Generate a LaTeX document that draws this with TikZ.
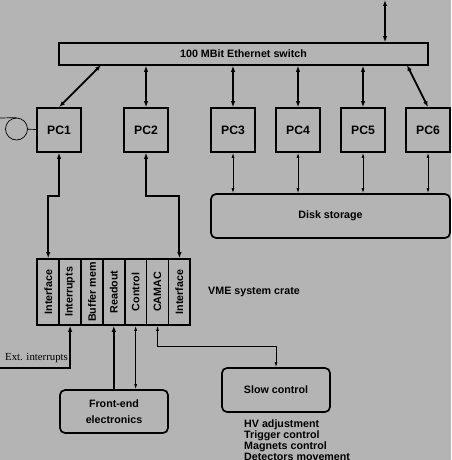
\documentclass[tikz,border=0pt]{standalone}
\usepackage{fontspec}
\setmainfont{Liberation Serif}
\setsansfont{Liberation Sans}
\usetikzlibrary{arrows.meta,positioning}
\definecolor{bggrey}{gray}{0.705}
\tikzset{
  labelfont/.style={font=\sffamily\bfseries\fontsize{10.7}{13}\selectfont},
  box/.style={draw, line width=1.7pt, labelfont, inner sep=0pt},
  pcbox/.style={box, minimum width=44, minimum height=44,
    font=\sffamily\bfseries\fontsize{12.2}{14}\selectfont},
  roundbox/.style={box, rounded corners=5pt, align=center},
  slotbox/.style={box, rotate=90, minimum width=66, minimum height=21.86},
  biglink/.style={line width=1.8pt, {Latex[length=6pt,width=4.5pt]}-{Latex[length=6pt,width=4.5pt]}},
  thinlink/.style={line width=0.8pt, {Latex[length=5pt,width=3pt]}-{Latex[length=5pt,width=3pt]}}
}
\begin{document}
\begin{tikzpicture}[x=1pt,y=-1pt]
  \fill[bggrey] (0,0) rectangle (451,460);
  \useasboundingbox (0,0) rectangle (451,460);
  % network
  \node[box, minimum width=369, minimum height=22] (sw) at (243.5,54) {100 MBit Ethernet switch};
  \coordinate (net) at (385,0);
  \draw[biglink] (net) -- (net |- sw.north);
  \foreach \n/\x in {1/59, 2/146, 3/233, 4/298, 5/363, 6/428}
    \node[pcbox] (pc\n) at (\x,130) {PC\n};
  \coordinate (sw1) at (101,65);
  \coordinate (sw6) at (407,65);
  \draw[biglink] (sw1) -- (pc1.north);
  \draw[biglink] (sw.south -| pc2) -- (pc2.north);
  \draw[biglink] (sw.south -| pc3) -- (pc3.north);
  \draw[biglink] (sw.south -| pc4) -- (pc4.north);
  \draw[biglink] (sw.south -| pc5) -- (pc5.north);
  \draw[biglink] (sw6) -- (pc6.north);
  % tape
  \node[draw, circle, line width=0.7pt, minimum size=22, inner sep=0pt] (tape) at (16.5,129) {};
  \coordinate (tapein) at (0,118);
  \draw[line width=0.7pt] (tapein) -- (tape.north);
  \draw[line width=0.7pt] (tape) -- (pc1);
  % disk
  \node[roundbox, minimum width=239, minimum height=44] (disk) at (330.5,216) {Disk storage};
  \foreach \n in {3,4,5,6}
    \draw[thinlink] (pc\n.south) -- (pc\n.south |- disk.north);
  % VME crate
  \node[box, minimum width=153, minimum height=66] (vme) at (113.8,292) {};
  \foreach \t [count=\i] in {Interface, Interrupts, Buffer mem, Readout, Control, CAMAC, Interface}
    \node[slotbox] (s\i) at ({37.3+21.86*(\i-0.5)},292) {\t};
  \node[labelfont] (vmelabel) at (254,292) {VME system crate};
  \draw[biglink] (pc1.south) -- ++(0,43) -| (s1 |- vme.north);
  \draw[biglink] (pc2.south) -- ++(0,43) -| (s7 |- vme.north);
  % ext. interrupts
  \coordinate (ext) at (0,368);
  \draw[line width=1.8pt, -{Latex[length=6pt,width=4.5pt]}] (ext) -| (s2 |- vme.south);
  \node[anchor=base west, inner sep=0pt, font=\fontsize{10.8}{13}\selectfont] (extlabel) at (5,360) {Ext. interrupts};
  % front-end and slow control
  \node[roundbox, minimum width=108, minimum height=43,
    font=\sffamily\bfseries\fontsize{10.7}{16}\selectfont] (fe) at (114,411.5) {Front-end\\electronics};
  \node[roundbox, minimum width=108, minimum height=44] (slow) at (276,390) {Slow control};
  \draw[line width=1.8pt, -{Latex[length=6pt,width=4.5pt]}] (s4 |- fe.north) -- (s4 |- vme.south);
  \draw[thinlink] (s5 |- vme.south) -- (s5 |- fe.north);
  \draw[thinlink] (s6 |- vme.south) -- ++(0,21) -| (slow.north);
  \node[anchor=base west, inner sep=0pt, align=left,
    font=\sffamily\bfseries\fontsize{10.7}{11}\selectfont] (slownotes) at (244,460)
    {HV adjustment\\Trigger control\\Magnets control\\Detectors movement};
\end{tikzpicture}
\end{document}
